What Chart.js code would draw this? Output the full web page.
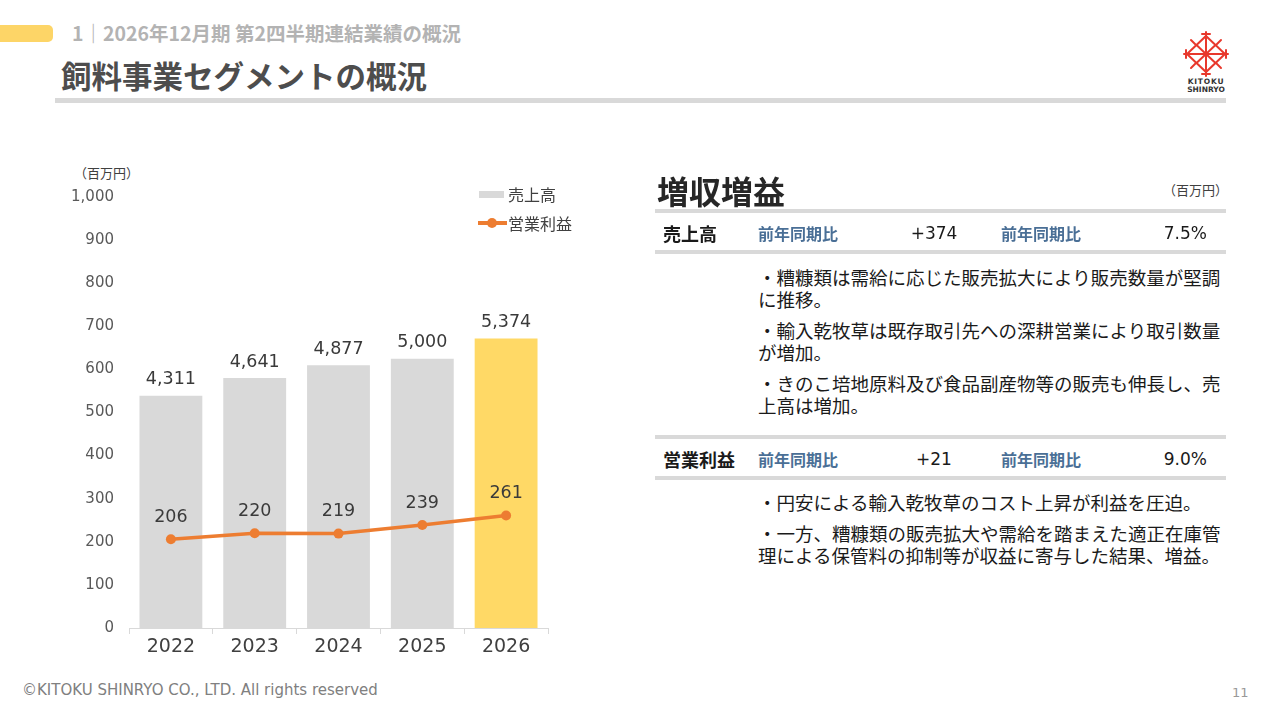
<!DOCTYPE html>
<html lang="ja">
<head>
<meta charset="utf-8">
<title>飼料事業セグメントの概況</title>
<script src="https://cdn.jsdelivr.net/npm/chart.js@4.4.1/dist/chart.umd.min.js"></script>
<style>
  html, body { margin: 0; padding: 0; background: #fff; }
  body { width: 1280px; height: 720px; position: relative; overflow: hidden;
         font-family: "Noto Sans CJK JP", "Noto Sans", sans-serif; color: #262626; }
  .abs { position: absolute; white-space: nowrap; }
  .yellow-tab { left: 0; top: 25px; width: 53px; height: 17px; background: #fdd567; border-radius: 0 5px 5px 0; }
  .subtitle { left: 72px; top: 20px; font-size: 19.5px; font-weight: bold; color: #b3b3b3; line-height: 26px; }
  .title { left: 61px; top: 56px; font-size: 30.5px; font-weight: bold; color: #4d4d4d; line-height: 38px; }
  .rule { background: #d9d9d9; height: 4px; }
  .unit { font-size: 13px; color: #404040; line-height: 16px; }
  .legend-text { font-size: 16px; color: #404040; line-height: 20px; }
  .big { left: 657px; top: 170px; font-size: 32px; font-weight: bold; color: #262626; line-height: 40px; }
  .row-head { left: 663px; font-size: 18px; font-weight: bold; color: #1a1a1a; line-height: 24px; }
  .cmp { font-size: 16px; font-weight: bold; color: #4a6f96; line-height: 24px; }
  .num { font-family: "DejaVu Sans", sans-serif; font-size: 17px; color: #1a1a1a; line-height: 24px; }
  .para { left: 758px; font-size: 18.5px; line-height: 22px; color: #1a1a1a; }
  .footer { left: 22px; top: 680px; font-family: "DejaVu Sans", sans-serif; font-size: 15px; color: #808080; line-height: 20px; }
  .page { left: 1232px; top: 684px; font-family: "DejaVu Sans", sans-serif; font-size: 13px; color: #999; line-height: 18px; }
  #chartBox { position: absolute; left: 60px; top: 160px; width: 500px; height: 500px; }
</style>
</head>
<body>

<div class="abs yellow-tab"></div>
<div class="abs subtitle">1｜2026年12月期 第2四半期連結業績の概況</div>
<div class="abs title">飼料事業セグメントの概況</div>
<div class="abs rule" style="left:55px; top:98px; width:1171px; height:5px;"></div>

<svg class="abs" style="left:1180px; top:30px;" width="52" height="64" viewBox="0 0 52 64">
  <g stroke="#e8382c" stroke-width="2" fill="none" stroke-linecap="round">
    <polygon points="26,6 45,24 26,42 7,24" />
    <line x1="16.5" y1="15" x2="35.5" y2="33" />
    <line x1="35.5" y1="15" x2="16.5" y2="33" />
    <line x1="26" y1="2" x2="26" y2="46" />
    <line x1="4" y1="24" x2="48" y2="24" />
    <line x1="22" y1="4" x2="30" y2="4" />
    <line x1="22" y1="44" x2="30" y2="44" />
    <line x1="6" y1="20" x2="6" y2="28" />
    <line x1="46" y1="20" x2="46" y2="28" />
    <line x1="11" y1="10" x2="16" y2="15" />
    <line x1="41" y1="10" x2="36" y2="15" />
    <line x1="11" y1="38" x2="16" y2="33" />
    <line x1="41" y1="38" x2="36" y2="33" />
  </g>
  <text x="26" y="54" text-anchor="middle" font-family="DejaVu Sans" font-weight="bold" font-size="7.5" fill="#333" letter-spacing="0.8">KITOKU</text>
  <text x="26" y="62" text-anchor="middle" font-family="DejaVu Sans" font-weight="bold" font-size="7.5" fill="#333">SHINRYO</text>
</svg>

<!-- chart -->
<div class="abs unit" style="left:74px; top:165px;">（百万円）</div>
<div id="chartBox"><canvas id="segChart"></canvas></div>
<div class="abs" style="left:479px; top:191px; width:25px; height:7px; background:#d9d9d9;"></div>
<div class="abs legend-text" style="left:508px; top:184px;">売上高</div>
<div class="abs" style="left:478px; top:221px; width:29px; height:4px; background:#ed7d31;"></div>
<div class="abs" style="left:487px; top:218px; width:10px; height:10px; border-radius:50%; background:#ed7d31;"></div>
<div class="abs legend-text" style="left:508px; top:213px;">営業利益</div>

<!-- right panel -->
<div class="abs big">増収増益</div>
<div class="abs unit" style="left:1163px; top:182px;">（百万円）</div>
<div class="abs rule" style="left:655px; top:209px; width:571px;"></div>

<div class="abs row-head" style="top:221px;">売上高</div>
<div class="abs cmp" style="left:758px; top:221px;">前年同期比</div>
<div class="abs num" style="left:884px; top:221px; width:100px; text-align:center;">+374</div>
<div class="abs cmp" style="left:1001px; top:221px;">前年同期比</div>
<div class="abs num" style="left:1107px; top:221px; width:100px; text-align:right;">7.5%</div>
<div class="abs rule" style="left:655px; top:250px; width:571px;"></div>

<div class="abs para" style="top:266px;">・糟糠類は需給に応じた販売拡大により販売数量が堅調<br>に推移。</div>
<div class="abs para" style="top:319px;">・輸入乾牧草は既存取引先への深耕営業により取引数量<br>が増加。</div>
<div class="abs para" style="top:372px;">・きのこ培地原料及び食品副産物等の販売も伸長し、売<br>上高は増加。</div>

<div class="abs rule" style="left:655px; top:435px; width:571px;"></div>
<div class="abs row-head" style="top:447px;">営業利益</div>
<div class="abs cmp" style="left:758px; top:447px;">前年同期比</div>
<div class="abs num" style="left:884px; top:447px; width:100px; text-align:center;">+21</div>
<div class="abs cmp" style="left:1001px; top:447px;">前年同期比</div>
<div class="abs num" style="left:1107px; top:447px; width:100px; text-align:right;">9.0%</div>
<div class="abs rule" style="left:655px; top:476px; width:571px;"></div>

<div class="abs para" style="top:491px;">・円安による輸入乾牧草のコスト上昇が利益を圧迫。</div>
<div class="abs para" style="top:522px;">・一方、糟糠類の販売拡大や需給を踏まえた適正在庫管<br>理による保管料の抑制等が収益に寄与した結果、増益。</div>

<div class="abs footer">©KITOKU SHINRYO CO., LTD. All rights reserved</div>
<div class="abs page">11</div>

<script>
const years = ['2022', '2023', '2024', '2025', '2026'];
const sales = [4311, 4641, 4877, 5000, 5374];
const operatingProfit = [206, 220, 219, 239, 261];
const barColors = ['#d9d9d9', '#d9d9d9', '#d9d9d9', '#d9d9d9', '#ffd966'];
const yTicks = [0, 100, 200, 300, 400, 500, 600, 700, 800, 900, 1000];

const numberFont = '"DejaVu Sans", sans-serif';

// value labels above bars and points
const valueLabels = {
  id: 'valueLabels',
  afterDatasetsDraw(chart) {
    const ctx = chart.ctx;
    ctx.save();
    ctx.font = '17.5px ' + numberFont;
    ctx.fillStyle = '#3a3a3a';
    ctx.textAlign = 'center';
    ctx.textBaseline = 'middle';
    chart.data.datasets.forEach((ds, i) => {
      const meta = chart.getDatasetMeta(i);
      const offset = ds.type === 'bar' ? 16 : 22;
      meta.data.forEach((el, j) => {
        ctx.fillText(ds.data[j].toLocaleString('en-US'), el.x, el.y - offset);
      });
    });
    ctx.restore();
  }
};

const ctx = document.getElementById('segChart').getContext('2d');
new Chart(ctx, {
  data: {
    labels: years,
    datasets: [
      {
        type: 'line',
        label: '営業利益',
        data: operatingProfit,
        yAxisID: 'y',
        borderColor: '#ed7d31',
        backgroundColor: '#ed7d31',
        borderWidth: 3.5,
        pointRadius: 5,
        pointBorderWidth: 0,
        pointBackgroundColor: '#ed7d31',
        tension: 0,
        order: 0
      },
      {
        type: 'bar',
        label: '売上高',
        data: sales,
        yAxisID: 'ySales',
        backgroundColor: barColors,
        categoryPercentage: 1,
        barPercentage: 0.75,
        order: 1
      }
    ]
  },
  options: {
    responsive: true,
    maintainAspectRatio: false,
    animation: false,
    layout: { padding: { top: 37, right: 12, left: 0, bottom: 0 } },
    plugins: {
      legend: { display: false },
      tooltip: { enabled: false }
    },
    scales: {
      x: {
        offset: true,
        grid: { display: true, drawOnChartArea: false, drawTicks: true, tickLength: 6, color: '#d9d9d9', offset: true },
        border: { display: true, color: '#d9d9d9' },
        ticks: { color: '#404040', font: { family: numberFont, size: 19 }, padding: 2 },
        afterFit(scale) { scale.height = 32; }
      },
      y: {
        min: 0,
        max: 1000,
        afterBuildTicks(scale) { scale.ticks = yTicks.map(v => ({ value: v })); },
        grid: { display: false, drawTicks: false },
        border: { display: false },
        ticks: { color: '#595959', font: { family: numberFont, size: 15 }, padding: 15,
                 callback: v => v.toLocaleString('en-US') },
        afterFit(scale) { scale.width = 69; }
      },
      ySales: {
        display: false,
        min: 0,
        max: 8000
      }
    }
  },
  plugins: [valueLabels]
});
</script>
</body>
</html>
